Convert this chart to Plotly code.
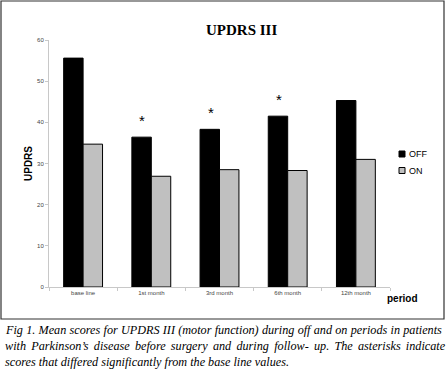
import plotly.graph_objects as go

periods = ["base line", "1st month", "3rd month", "6th month", "12th month"]
off_values = [55.6, 36.4, 38.3, 41.5, 45.3]
on_values = [34.7, 26.9, 28.5, 28.3, 31.0]
significant = [False, True, True, True, False]
y_ticks = [0, 10, 20, 30, 40, 50, 60]
series_names = ["OFF", "ON"]
series_colors = ["#000000", "#c0c0c0"]

caption_lines = [
    "Fig 1. Mean scores for UPDRS III (motor function) during off and on periods in patients",
    "with Parkinson\u2019s disease before surgery and during follow- up. The asterisks indicate",
    "scores that differed significantly from the base line values.",
]
caption_word_spacing = [0.2, 2.2, 0]

W, H = 446, 373
def px(x):
    return x / W
def py(y):
    return (H - y) / H

fig = go.Figure()
for name, vals, col in zip(series_names, [off_values, on_values], series_colors):
    fig.add_trace(go.Bar(x=periods, y=vals, name=name,
                         marker=dict(color=col, line=dict(color="#000000", width=1))))

annotations = []
for p, v, s in zip(periods, off_values, significant):
    if s:
        annotations.append(dict(x=p, y=v + 4.0, xref="x", yref="y", text="*",
                                showarrow=False, xshift=-9, yanchor="middle",
                                font=dict(family="Liberation Sans", size=15, color="#000")))

annotations += [
    dict(x=px(241), y=py(30), xref="paper", yref="paper", text="<b>UPDRS III</b>",
         showarrow=False, xanchor="center", yanchor="middle",
         font=dict(family="Liberation Serif", size=15, color="#000")),
    dict(x=px(29), y=py(163), xref="paper", yref="paper", text="<b>UPDRS</b>",
         showarrow=False, textangle=-90, xanchor="center", yanchor="middle",
         font=dict(family="Liberation Sans", size=10, color="#000")),
    dict(x=px(402), y=py(298), xref="paper", yref="paper", text="<b>period</b>",
         showarrow=False, xanchor="center", yanchor="middle",
         font=dict(family="Liberation Sans", size=10, color="#000")),
]
for i, (line, ws) in enumerate(zip(caption_lines, caption_word_spacing)):
    annotations.append(dict(x=px(3), y=py(330 + 15.8 * i), xref="paper", yref="paper",
                            text='<span style="word-spacing:%.1fpx"><i>%s</i></span>' % (ws, line),
                            showarrow=False, xanchor="left", yanchor="middle",
                            font=dict(family="Liberation Serif", size=12.2, color="#000")))

shapes = [dict(type="rect", xref="paper", yref="paper",
               x0=px(1), y0=py(319), x1=px(444), y1=py(1),
               line=dict(color="#333", width=1.2))]

# custom legend
for i, (name, col) in enumerate(zip(series_names, series_colors)):
    cy = 154 + 16.5 * i
    shapes.append(dict(type="rect", xref="paper", yref="paper",
                       x0=px(399), x1=px(405), y0=py(cy + 3), y1=py(cy - 3),
                       fillcolor=col, line=dict(color="#000", width=1)))
    annotations.append(dict(x=px(406.5), y=py(cy), xref="paper", yref="paper", text=name,
                            showarrow=False, xanchor="left", yanchor="middle",
                            font=dict(family="Liberation Sans", size=9, color="#000")))

fig.update_layout(
    width=W, height=H,
    margin=dict(l=0, r=0, t=0, b=0),
    paper_bgcolor="white", plot_bgcolor="white",
    barmode="group", bargap=0.43, bargroupgap=0,
    showlegend=False,
    xaxis=dict(domain=[px(49), px(390)], showline=True, linecolor="#c8c8c8", linewidth=1,
               ticks="outside", tickson="boundaries", ticklen=3, tickcolor="#c8c8c8",
               tickfont=dict(family="Liberation Sans", size=6, color="#444"),
               showgrid=False, fixedrange=True, automargin=False),
    yaxis=dict(domain=[py(287), py(40)], range=[0, 60], tickvals=y_ticks,
               showline=True, linecolor="#c8c8c8", linewidth=1,
               ticks="outside", ticklen=3, tickcolor="#c8c8c8",
               tickfont=dict(family="Liberation Sans", size=6, color="#444"),
               showgrid=False, zeroline=False, fixedrange=True, automargin=False),
    annotations=annotations,
    shapes=shapes,
)

fig.write_html("out.html", config={"displayModeBar": False},
               post_script="document.body.style.margin='0';")
